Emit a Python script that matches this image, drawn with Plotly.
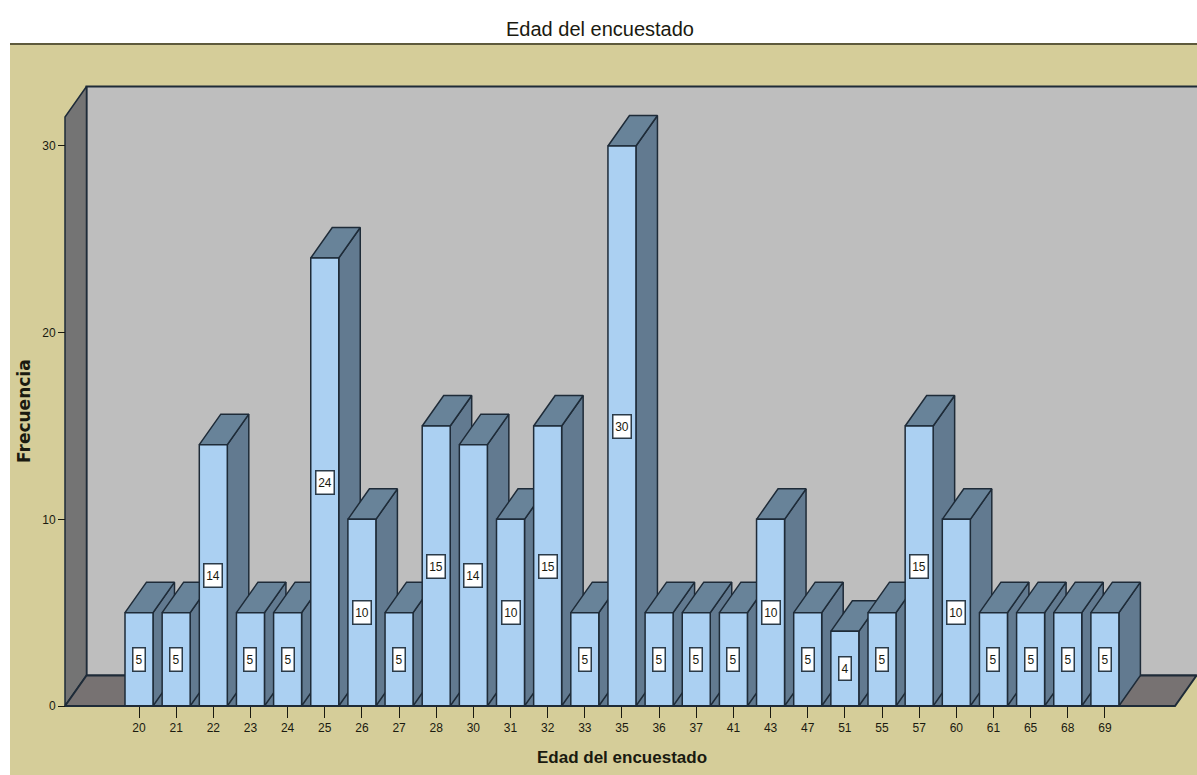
import plotly.graph_objects as go

# Survey age distribution
edades = [20, 21, 22, 23, 24, 25, 26, 27, 28, 30, 31, 32, 33, 35, 36, 37, 41, 43, 47, 51, 55, 57, 60, 61, 65, 68, 69]
frecuencias = [5, 5, 14, 5, 5, 24, 10, 5, 15, 14, 10, 15, 5, 30, 5, 5, 5, 10, 5, 4, 5, 15, 10, 5, 5, 5, 5]
ticks_y = [0, 10, 20, 30]

WIDTH, HEIGHT = 1197, 775
PX_PER_SLOT = 37.15   # horizontal pixels between neighbouring categories
PX_PER_UNIT = 18.667  # vertical pixels per count
FIRST_PX = 139        # pixel column of the first category
ZERO_PX = 706         # pixel row of the zero line

# Extruded-box proportions, in axis units
HALF_W = 14 / PX_PER_SLOT
DX = 21.5 / PX_PER_SLOT
DY = 30.5 / PX_PER_UNIT

# Chart box, in axis units
X_LEFT = (65 - FIRST_PX) / PX_PER_SLOT
X_RIGHT = (1175 - FIRST_PX) / PX_PER_SLOT
Y_TOP = (ZERO_PX - 117) / PX_PER_UNIT
X_END = (WIDTH - FIRST_PX) / PX_PER_SLOT

OLIVE = "#D5CD99"
WALL = "#BEBEBE"
LEFT_WALL = "#747474"
FLOOR = "#777272"
FRONT = "#ABD0F2"
SIDE = "#627A90"
TOP = "#688399"
EDGE = "#1E2B38"
INK = "#1A1A10"
FONT = "Liberation Sans, Arial, sans-serif"


def poly(xs, ys, fill, line=EDGE, width=1.5):
    return go.Scatter(
        x=xs + xs[:1], y=ys + ys[:1], mode="lines", fill="toself", fillcolor=fill,
        line=dict(color=line, width=width), hoverinfo="skip", showlegend=False,
    )


fig = go.Figure()

# Room: back wall, left wall, floor
fig.add_trace(poly([X_LEFT + DX, X_END + 1, X_END + 1, X_LEFT + DX],
                   [DY, DY, Y_TOP + DY, Y_TOP + DY], WALL, width=2))
fig.add_trace(poly([X_LEFT, X_LEFT + DX, X_LEFT + DX, X_LEFT],
                   [0, DY, Y_TOP + DY, Y_TOP], LEFT_WALL))
fig.add_trace(poly([X_LEFT, X_RIGHT, X_RIGHT + DX, X_LEFT + DX],
                   [0, 0, DY, DY], FLOOR, width=2))

# Boxes are painted left to right so each front hides its neighbour's side
for i, v in enumerate(frecuencias):
    l, r = i - HALF_W, i + HALF_W
    if i < len(frecuencias) - 1:
        # Dark wedge on the floor in the gap before the next box
        fig.add_trace(poly([r, r + DX, r + DX], [0, 0, DY], SIDE, line=SIDE, width=0.5))
    fig.add_trace(poly([r, r + DX, r + DX, r], [0, DY, v + DY, v], SIDE))
    fig.add_trace(poly([l, r, r + DX, l + DX], [v, v, v + DY, v + DY], TOP))
    fig.add_trace(poly([l, r, r, l], [0, 0, v, v], FRONT))

# Baseline runs over the wedges and the box feet
fig.add_trace(go.Scatter(x=[X_LEFT, X_RIGHT], y=[0, 0], mode="lines",
                         line=dict(color=EDGE, width=2), hoverinfo="skip", showlegend=False))

annotations = [
    dict(x=i, y=v / 2, xref="x", yref="y", text=str(v), showarrow=False,
         bgcolor="white", bordercolor="#2A3A48", borderwidth=1.5,
         width=9 if v < 10 else 15, height=20,
         font=dict(family=FONT, size=12, color=INK))
    for i, v in enumerate(frecuencias)
]
annotations += [
    dict(x=622 / WIDTH, y=1 - 757 / HEIGHT, xref="paper", yref="paper",
         xanchor="center", yanchor="middle",
         text="<b>Edad del encuestado</b>", showarrow=False,
         font=dict(family=FONT, size=17, color=INK)),
    dict(x=24 / WIDTH, y=1 - 411 / HEIGHT, xref="paper", yref="paper",
         xanchor="center", yanchor="middle",
         text="<b>Frecuencia</b>", showarrow=False, textangle=-90,
         font=dict(family="DejaVu Sans, sans-serif", size=17, color=INK)),
    dict(x=600 / WIDTH, y=1 - 29 / HEIGHT, xref="paper", yref="paper",
         xanchor="center", yanchor="middle",
         text="Edad del encuestado", showarrow=False,
         font=dict(family=FONT, size=20, color=INK)),
]

fig.update_layout(
    width=WIDTH, height=HEIGHT,
    margin=dict(l=0, r=0, t=0, b=0),
    paper_bgcolor="white", plot_bgcolor="white",
    showlegend=False,
    annotations=annotations,
    shapes=[
        dict(type="rect", xref="paper", yref="paper", layer="below",
             x0=10 / WIDTH, x1=1, y0=0, y1=1 - 44 / HEIGHT,
             fillcolor=OLIVE, line=dict(width=0)),
        dict(type="line", xref="paper", yref="paper", layer="below",
             x0=10 / WIDTH, x1=1, y0=1 - 44 / HEIGHT, y1=1 - 44 / HEIGHT,
             line=dict(color="#5E5A3C", width=2)),
    ],
    xaxis=dict(
        range=[-FIRST_PX / PX_PER_SLOT, X_END],
        anchor="free", position=(HEIGHT - ZERO_PX) / HEIGHT,
        tickmode="array", tickvals=list(range(len(edades))), ticktext=[str(e) for e in edades],
        ticks="outside", ticklen=11, tickwidth=1, tickcolor=INK,
        tickfont=dict(family=FONT, size=12, color=INK),
        showgrid=False, zeroline=False, showline=False,
    ),
    yaxis=dict(
        range=[(ZERO_PX - HEIGHT) / PX_PER_UNIT, ZERO_PX / PX_PER_UNIT],
        anchor="free", position=65 / WIDTH,
        tickmode="array", tickvals=ticks_y,
        ticks="outside", ticklen=7, tickwidth=1, tickcolor=INK,
        tickfont=dict(family=FONT, size=12, color=INK),
        showgrid=False, zeroline=False, showline=False,
    ),
)

fig.write_html("out.html")
